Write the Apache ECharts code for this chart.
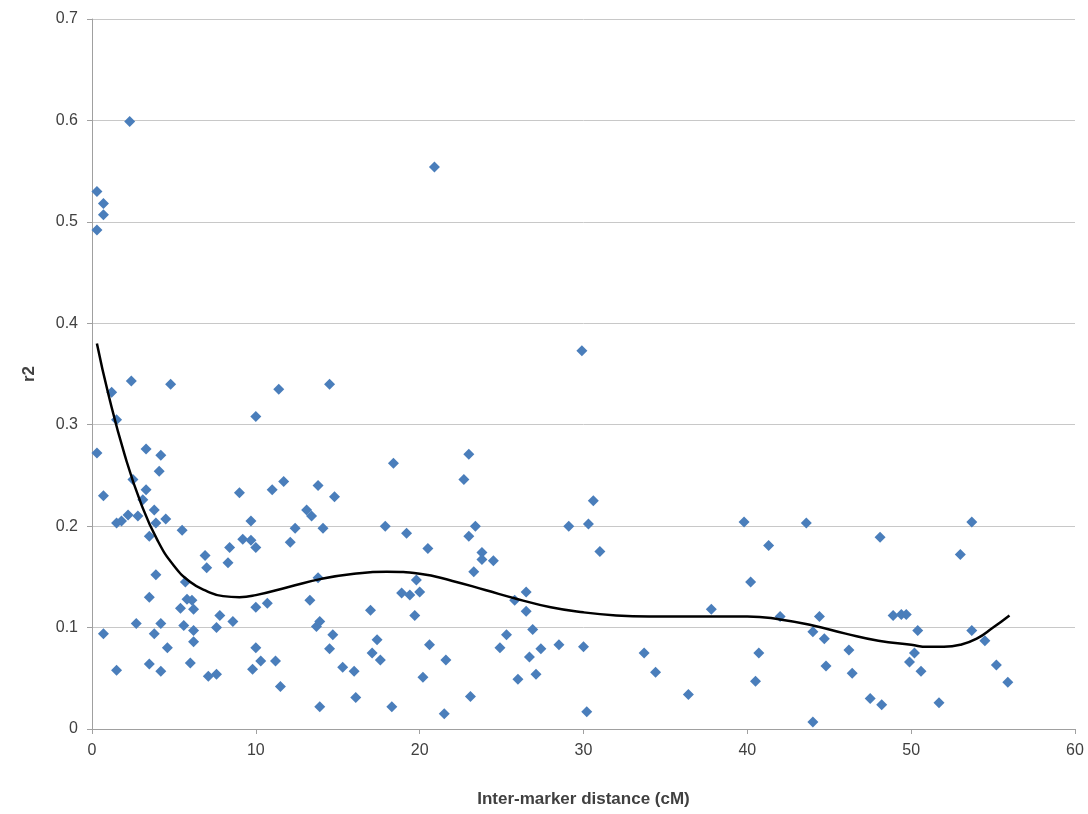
<!DOCTYPE html>
<html>
<head>
<meta charset="utf-8">
<script src="https://cdn.jsdelivr.net/npm/echarts@6/dist/echarts.min.js"></script>
<style>html,body{margin:0;padding:0;background:#fff}#chart{width:1088px;height:814px}</style>
</head>
<body>
<div id="chart"></div>
<script>
// scatter points [distance cM, r2]
const points = [
  [0.3,0.53],[0.3,0.492],[0.7,0.518],[0.7,0.507],[2.3,0.599],[20.9,0.554],
  [0.3,0.272],[0.7,0.23],[0.7,0.094],[1.2,0.332],[1.5,0.305],[1.5,0.203],[1.5,0.058],[1.8,0.205],[2.2,0.211],[2.4,0.343],[2.5,0.246],[2.7,0.104],[2.8,0.21],[3.1,0.226],[3.3,0.276],[3.3,0.236],[3.5,0.13],[3.5,0.19],[3.5,0.064],[3.8,0.094],[3.8,0.216],[3.9,0.152],[3.9,0.203],[4.1,0.254],[4.2,0.27],[4.2,0.104],[4.2,0.057],[4.5,0.207],[4.6,0.08],[4.8,0.34],
  [5.4,0.119],[5.5,0.196],[5.6,0.102],[5.7,0.145],[5.8,0.128],[6.0,0.065],[6.1,0.127],[6.2,0.118],[6.2,0.097],[6.2,0.086],[6.9,0.171],[7.0,0.159],[7.1,0.052],[7.6,0.1],[7.6,0.054],[7.8,0.112],[8.3,0.164],[8.4,0.179],[8.6,0.106],[9.0,0.233],[9.2,0.187],[9.7,0.205],[9.7,0.186],[9.8,0.059],
  [10.0,0.308],[10.0,0.179],[10.0,0.12],[10.0,0.08],[10.3,0.067],[10.7,0.124],[11.0,0.236],[11.2,0.067],[11.4,0.335],[11.5,0.042],[11.7,0.244],[12.1,0.184],[12.4,0.198],[13.1,0.216],[13.3,0.127],[13.4,0.21],[13.7,0.101],[13.8,0.24],[13.8,0.149],[13.9,0.106],[13.9,0.022],[14.1,0.198],[14.5,0.34],[14.5,0.079],[14.7,0.093],[14.8,0.229],
  [15.3,0.061],[16.0,0.057],[16.1,0.031],[17.0,0.117],[17.1,0.075],[17.4,0.088],[17.6,0.068],[17.9,0.2],[18.3,0.022],[18.4,0.262],[18.9,0.134],[19.2,0.193],[19.4,0.132],[19.7,0.112],[19.8,0.147],
  [20.0,0.135],[20.2,0.051],[20.5,0.178],[20.6,0.083],[21.5,0.015],[21.6,0.068],[22.7,0.246],[23.0,0.271],[23.0,0.19],[23.1,0.032],[23.3,0.155],[23.4,0.2],[23.8,0.174],[23.8,0.167],[24.5,0.166],[24.9,0.08],
  [25.3,0.093],[25.8,0.127],[26.0,0.049],[26.5,0.135],[26.5,0.116],[26.7,0.071],[26.9,0.098],[27.1,0.054],[27.4,0.079],[28.5,0.083],[29.1,0.2],[29.9,0.373],
  [30.0,0.081],[30.2,0.017],[30.3,0.202],[30.6,0.225],[31.0,0.175],[33.7,0.075],[34.4,0.056],[36.4,0.034],[37.8,0.118],[39.8,0.204],
  [40.2,0.145],[40.5,0.047],[40.7,0.075],[41.3,0.181],[42.0,0.111],[43.6,0.203],[44.0,0.007],[44.0,0.096],[44.4,0.111],[44.7,0.089],[44.8,0.062],[46.2,0.078],[46.4,0.055],[47.5,0.03],[48.1,0.189],[48.2,0.024],[48.9,0.112],[49.4,0.113],[49.7,0.113],[49.9,0.066],
  [50.2,0.075],[50.4,0.097],[50.6,0.057],[51.7,0.026],[53.0,0.172],[53.7,0.204],[53.7,0.097],[54.5,0.087],[55.2,0.063],[55.9,0.046]
];

// trend line
const trendX = [0.3,1,2,3,4,5,6,7,8,9,10,12,14,16,18,20,22,24,26,28,30,32,34,36,38,40,42,44,46,48,50,51,52,53,54,55,56];
const trendY = [0.38,0.33,0.27,0.222,0.186,0.161,0.145,0.136,0.131,0.13,0.132,0.14,0.148,0.153,0.155,0.153,0.146,0.137,0.128,0.12,0.115,0.112,0.111,0.111,0.111,0.111,0.108,0.102,0.094,0.087,0.083,0.081,0.081,0.083,0.089,0.1,0.112];

const chart = echarts.init(document.getElementById('chart'));
const labelFont = { color: '#404040', fontSize: 16, fontFamily: 'Liberation Sans' };
chart.setOption({
  animation: false,
  grid: { left: 92, right: 13, top: 19, bottom: 85 },
  xAxis: {
    type: 'value', min: 0, max: 60, interval: 10,
    name: 'Inter-marker distance (cM)', nameLocation: 'middle', nameGap: 62,
    nameTextStyle: { fontSize: 17, fontWeight: 'bold', color: '#404040', fontFamily: 'Liberation Sans' },
    axisLine: { lineStyle: { color: '#a0a0a0' } },
    axisTick: { show: true, lineStyle: { color: '#a0a0a0' } },
    axisLabel: Object.assign({ margin: 14 }, labelFont),
    splitLine: { show: false }
  },
  yAxis: {
    type: 'value', min: 0, max: 0.7, interval: 0.1,
    name: 'r2', nameLocation: 'middle', nameGap: 54,
    nameTextStyle: { fontSize: 17, fontWeight: 'bold', color: '#404040', fontFamily: 'Liberation Sans' },
    axisLine: { show: true, lineStyle: { color: '#a0a0a0' } },
    axisTick: { show: true, lineStyle: { color: '#a0a0a0' } },
    axisLabel: Object.assign({ margin: 14, formatter: v => v === 0 ? '0' : v.toFixed(1) }, labelFont),
    splitLine: { lineStyle: { color: '#c8c8c8' } }
  },
  series: [
    {
      type: 'scatter', data: points, symbol: 'diamond', symbolSize: 11,
      itemStyle: { color: '#4a7ebb', opacity: 1 }
    },
    {
      type: 'line', data: trendX.map((x, i) => [x, trendY[i]]), smooth: true,
      showSymbol: false, lineStyle: { color: '#000', width: 2.5 }
    }
  ]
});
</script>
</body>
</html>
